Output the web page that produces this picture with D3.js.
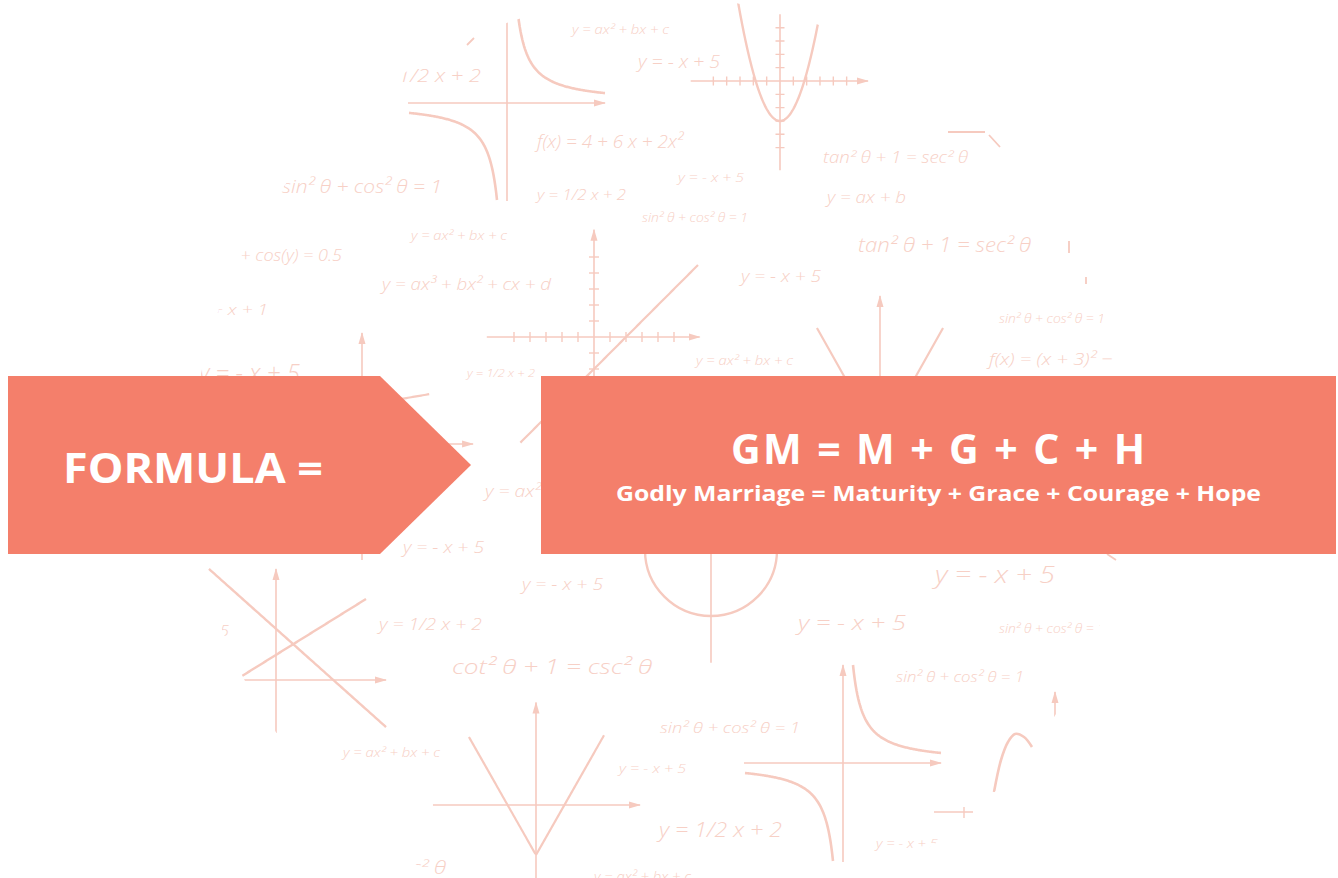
<!DOCTYPE html>
<html><head><meta charset="utf-8">
<script src="https://cdn.jsdelivr.net/npm/d3@7"></script>
<style>html,body{margin:0;padding:0;background:#fff;overflow:hidden}</style>
</head><body><script>
// ---------- data ----------
const formulaStrings = [
  "y = ax² + bx + c","y = 1/2 x + 2","y = - x + 5","f(x) = 4 + 6 x + 2x²","sin² θ + cos² θ = 1",
  "y = 1/2 x + 2","y = - x + 5","sin² θ + cos² θ = 1","tan² θ + 1 = sec² θ","y = ax + b",
  "tan² θ + 1 = sec² θ","y = ax² + bx + c","sin(x) + cos(y) = 0.5","y = ax³ + bx² + cx + d","y = x² + x + 1",
  "y = - x + 5","y = 1/2 x + 2","y = ax² + bx + c","y = - x + 5","sin² θ + cos² θ = 1",
  "f(x) = (x + 3)² − 2","y = ax² + bx + c","y = - x + 5","y = - x + 5","y = 1/2 x + 2",
  "cot² θ + 1 = csc² θ","y = ax² + bx + c","y = - x + 5","sin² θ + cos² θ = 1","y = 1/2 x + 2",
  "cot² θ + 1 = csc² θ","y = ax² + bx + c","y = - x + 5","y = - x + 5","sin² θ + cos² θ = 1",
  "sin² θ + cos² θ = 1","y = - x + 5","y = - x + 5"
];
const titleLeft = "FORMULA =";
const titleMain = "GM = M + G + C + H";
const titleSub = "Godly Marriage = Maturity + Grace + Courage + Hope";

// ---------- layout (positions / sizes) ----------
const W = 1338, H = 878;
const formulaLayout = [ // [x, baseline, font size, drawn width]
  [572,34,13,97],[365,82,19,116],[638,68,19,82],[537,148,19,146],[282,193,19,160],
  [537,200,14,89],[678,182,13,66],[642,222,12,106],[823,163,16,145],[827,203,16,79],
  [858,252,20,173],[411,240,13,96],[196,261,16,146],[382,290,17,169],[163,315,15,105],
  [199,382,25,101],[467,377,11,68],[696,365,13,97],[741,282,16,80],[999,323,12,106],
  [989,365,17,140],[485,497,17,127],[403,553,17,81],[522,590,16,81],[379,630,16,103],
  [452,674,21,200],[343,757,12,97],[619,773,13,67],[660,733,15,140],[659,837,20,123],
  [275,874,18,171],[594,882,14,97],[935,583,23,120],[798,630,21,108],[999,633,12,106],
  [896,682,14,128],[876,848,12,62],[159,636,14,70]
];
const frames = {
  hypTop:{ox:507,oy:103,unit:10}, parab:{ox:780,oy:81,unit:13.33}, lineG:{ox:594,oy:337,unit:16},
  leftG:{ox:362,oy:444,unit:16}, circ:{ox:711,oy:550,unit:66}, vMid:{ox:880,oy:440,unit:16},
  cross:{ox:276,oy:680,unit:20}, vBot:{ox:536,oy:805,unit:16}, hypBot:{ox:843,oy:763,unit:10},
  bump:{ox:1015,oy:760,unit:10}, misc:{ox:1055,oy:812,unit:1}
};
const bumpPoints = [[-2.1,-3.2],[-1.4,0],[-0.7,1.8],[0,2.6],[0.9,2.3],[1.7,1.3]];

const SALMON = "#f47f6b", LINE = "#f6cabf", TEXT = "#f7d0c6";

const svg = d3.select("body").append("svg").attr("width", W).attr("height", H);
const defs = svg.append("defs");
defs.append("clipPath").attr("id","bgclip").append("circle")
  .attr("cx",660).attr("cy",465).attr("r",468);
defs.append("marker").attr("id","arr").attr("markerUnits","userSpaceOnUse")
  .attr("markerWidth",12).attr("markerHeight",8).attr("refX",11).attr("refY",4).attr("orient","auto")
  .append("path").attr("d","M0,0.5 L12,4 L0,7.5 Z").attr("fill",LINE);

const bg = svg.append("g").attr("clip-path","url(#bgclip)");

// formula texts
bg.append("g").selectAll("text").data(formulaStrings).join("text")
  .attr("x",(d,i)=>formulaLayout[i][0]).attr("y",(d,i)=>formulaLayout[i][1])
  .attr("font-size",(d,i)=>formulaLayout[i][2])
  .attr("textLength",(d,i)=>formulaLayout[i][3]).attr("lengthAdjust","spacingAndGlyphs")
  .attr("font-family","'Open Sans', sans-serif").attr("font-style","italic").attr("font-weight",300)
  .attr("fill",TEXT).text(d=>d);

function frame(name){
  const f = frames[name];
  return {
    x: d3.scaleLinear().domain([0,1]).range([f.ox, f.ox+f.unit]),
    y: d3.scaleLinear().domain([0,1]).range([f.oy, f.oy-f.unit])
  };
}
const gl = bg.append("g").attr("fill","none").attr("stroke",LINE);

function xAxis(s, a0, a1, arrow, ticks, th){
  gl.append("line").attr("x1",s.x(a0)).attr("x2",s.x(a1)).attr("y1",s.y(0)).attr("y2",s.y(0))
    .attr("stroke-width",1.6).attr("marker-end",arrow?"url(#arr)":null);
  (ticks||[]).forEach(t=>gl.append("line").attr("x1",s.x(t)).attr("x2",s.x(t))
    .attr("y1",s.y(0)-th).attr("y2",s.y(0)+th).attr("stroke-width",1.4));
}
function yAxis(s, a0, a1, arrow, ticks, th){
  gl.append("line").attr("x1",s.x(0)).attr("x2",s.x(0)).attr("y1",s.y(a0)).attr("y2",s.y(a1))
    .attr("stroke-width",1.6).attr("marker-end",arrow?"url(#arr)":null);
  (ticks||[]).forEach(t=>gl.append("line").attr("y1",s.y(t)).attr("y2",s.y(t))
    .attr("x1",s.x(0)-th).attr("x2",s.x(0)+th).attr("stroke-width",1.4));
}
function curve(s, fn, u0, u1, w){
  const pts = d3.range(0,101).map(i=>{const u=u0+(u1-u0)*i/100; return [u, fn(u)];});
  gl.append("path").attr("d", d3.line().x(d=>s.x(d[0])).y(d=>s.y(d[1]))(pts)).attr("stroke-width",w||2.6);
}
function seg(s, p, w){
  gl.append("path").attr("d", d3.line().x(d=>s.x(d[0])).y(d=>s.y(d[1]))(p)).attr("stroke-width",w||2.2);
}

// hyperbola top
{ const s=frame("hypTop");
  xAxis(s,-9.9,9.8,true); yAxis(s,-9.8,8.3,false);
  curve(s,u=>9.7/u,1.0,9.8); curve(s,u=>9.7/u,-9.8,-1.0); }
// parabola
{ const s=frame("parab");
  xAxis(s,-6.7,6.6,true,[-5,-4,-3,-2,-1,1,2,3,4,5],4.5);
  yAxis(s,-6.7,5.0,false,[-5,-4,-3,-2,-1,1,2,3,4],4.5);
  curve(s,u=>0.9*u*u-3,-3.3,3.3,2.4); }
// line graph centre
{ const s=frame("lineG");
  xAxis(s,-6.7,6.6,true,[-5,-4,-3,-2,-1,1,2,3,4,5],5);
  yAxis(s,-3,6.7,true,[-2,-1,1,2,3,4,5],5);
  curve(s,u=>u-2,-4.6,6.5,2.2); }
// left graph behind arrow
{ const s=frame("leftG");
  xAxis(s,-7,6.94,true); yAxis(s,-7.25,6.94,true);
  curve(s,u=>0.17*u+2.4,-6,4.2,2.2); }
// circle
{ const s=frame("circ");
  gl.append("circle").attr("cx",s.x(0)).attr("cy",s.y(0)).attr("r",s.x(1)-s.x(0)).attr("stroke-width",2.4);
  yAxis(s,-1.71,1.3,false); }
// V middle
{ const s=frame("vMid");
  yAxis(s,-2,9,true);
  seg(s,[[-3.94,7],[0,0],[3.94,7]]); }
// crossing lines
{ const s=frame("cross");
  xAxis(s,-1.7,5.5,true); yAxis(s,-2.65,5.55,true);
  curve(s,u=>-0.893*u+2.56,-3.35,5.5,2.4); curve(s,u=>0.621*u+1.256,-1.7,4.5,2.4); }
// V bottom
{ const s=frame("vBot");
  xAxis(s,-6.44,6.5,true); yAxis(s,-4.8,6.4,true);
  curve(s,u=>1.76*Math.abs(u)-3.125,-4.19,4.25,2.2); }
// hyperbola bottom
{ const s=frame("hypBot");
  xAxis(s,-9.9,9.8,true); yAxis(s,-9.9,9.8,true);
  curve(s,u=>9.8/u,1.0,9.8); curve(s,u=>9.8/u,-9.8,-1.0); }
// bump
{ const s=frame("bump");
  gl.append("path").attr("d", d3.line().x(d=>s.x(d[0])).y(d=>s.y(d[1])).curve(d3.curveCatmullRom)(bumpPoints))
    .attr("stroke-width",2.6); }
// misc arrow and cross
{ const s=frame("misc");
  gl.append("line").attr("x1",s.x(0)).attr("x2",s.x(0)).attr("y1",s.y(88)).attr("y2",s.y(120))
    .attr("stroke-width",1.6).attr("marker-end","url(#arr)");
  gl.append("line").attr("x1",s.x(-121)).attr("x2",s.x(-82)).attr("y1",s.y(0)).attr("y2",s.y(0)).attr("stroke-width",1.6);
  gl.append("line").attr("x1",s.x(-91)).attr("x2",s.x(-91)).attr("y1",s.y(5)).attr("y2",s.y(-6)).attr("stroke-width",1.4);
}
// edge fragments (outside clip)
const frag = svg.append("g").attr("stroke",LINE).attr("fill","none").attr("stroke-width",1.8);
[[[467,45],[474,38]],[[948,132],[985,132]],[[989,135],[1000,147]],[[1069,241],[1069,253]],
 [[1086,277],[1086,284]],[[1107,554],[1116,560]]].forEach(p=>frag.append("path").attr("d",d3.line()(p)));

// ---------- foreground shapes ----------
svg.append("path").attr("d","M8,376 L380,376 L471,465 L380,554 L8,554 Z").attr("fill",SALMON);
svg.append("rect").attr("x",541).attr("y",376).attr("width",795).attr("height",178).attr("fill",SALMON);

const ft = svg.append("g").attr("fill","#fff").attr("font-family","'Open Sans', sans-serif").attr("font-weight",700);
ft.append("text").attr("x",63).attr("y",483).attr("font-size",42)
  .attr("textLength",260).attr("lengthAdjust","spacingAndGlyphs").text(titleLeft);
ft.append("text").attr("x",731).attr("y",464).attr("font-size",41)
  .attr("textLength",414).attr("lengthAdjust","spacing").text(titleMain);
ft.append("text").attr("x",616).attr("y",501).attr("font-size",22)
  .attr("textLength",645).attr("lengthAdjust","spacingAndGlyphs").text(titleSub);
</script></body></html>
